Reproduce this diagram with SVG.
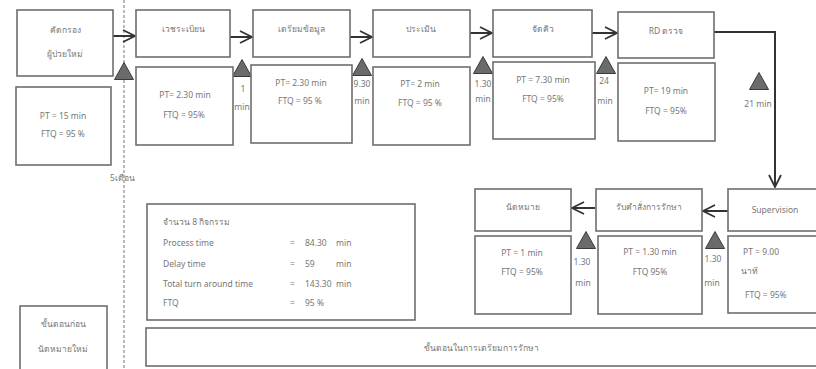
<svg xmlns="http://www.w3.org/2000/svg" width="816" height="369" viewBox="0 0 816 369">
<defs>
<style>
.box{fill:#fff;stroke:#6e6e6e;stroke-width:1.6}
.t{font-family:"Noto Sans","DejaVu Sans","Liberation Sans",sans-serif;font-size:8.5px;fill:#777;text-anchor:middle}
.tl{font-family:"Noto Sans","DejaVu Sans","Liberation Sans",sans-serif;font-size:8.5px;fill:#777}
.c{fill:none;stroke:#333;stroke-width:2}
.tri{fill:#6b6b6b;stroke:#3a3a3a;stroke-width:1}
</style>
<marker id="ah" viewBox="0 0 14 14" refX="13" refY="7" markerWidth="14" markerHeight="14" markerUnits="userSpaceOnUse" orient="auto">
<path d="M1,1 L13,7 L1,13" fill="none" stroke="#333" stroke-width="1.8"/>
</marker>
<path id="triangle" d="M0,-8.5 L9.5,8.5 L-9.5,8.5 Z"/>
</defs>
<rect width="816" height="369" fill="#fff"/>
<line x1="124" y1="0" x2="124" y2="369" stroke="#777" stroke-width="1" stroke-dasharray="3,2"/>
<g id="connectors">
<line class="c" x1="113" y1="36" x2="135" y2="36" marker-end="url(#ah)"/>
<line class="c" x1="230" y1="37" x2="252" y2="37" marker-end="url(#ah)"/>
<line class="c" x1="350" y1="37" x2="372" y2="37" marker-end="url(#ah)"/>
<line class="c" x1="470" y1="33" x2="492" y2="33" marker-end="url(#ah)"/>
<line class="c" x1="592" y1="33" x2="617" y2="33" marker-end="url(#ah)"/>
<polyline class="c" points="714,32 775,32 775,187" marker-end="url(#ah)"/>
<line class="c" x1="728" y1="211" x2="703" y2="211" marker-end="url(#ah)"/>
<line class="c" x1="595" y1="208" x2="572" y2="208" marker-end="url(#ah)"/>
</g>
<g id="delays">
<use href="#triangle" class="tri" x="124" y="71"/>
<use href="#triangle" class="tri" x="242" y="68"/>
<text class="t" x="243" y="92">1</text><text class="t" x="242" y="110">min</text>
<use href="#triangle" class="tri" x="362" y="67"/>
<text class="t" x="362" y="87">9.30</text><text class="t" x="362" y="104">min</text>
<use href="#triangle" class="tri" x="483" y="65"/>
<text class="t" x="483" y="87">1.30</text><text class="t" x="483" y="102">min</text>
<use href="#triangle" class="tri" x="606" y="65"/>
<text class="t" x="604" y="84">24</text><text class="t" x="605" y="104">min</text>
<use href="#triangle" class="tri" x="759" y="81"/>
<text class="t" x="758" y="107">21 min</text>
<use href="#triangle" class="tri" x="586" y="240"/>
<text class="t" x="582" y="265">1.30</text><text class="t" x="583" y="286">min</text>
<use href="#triangle" class="tri" x="715" y="240"/>
<text class="t" x="713" y="262">1.30</text><text class="t" x="712" y="286">min</text>
</g>
<g id="n1">
<rect class="box" x="17" y="10" width="96" height="66"/>
<text class="t" x="65" y="33">คัดกรอง</text><text class="t" x="65" y="57">ผู้ป่วยใหม่</text>
<rect class="box" x="16" y="87" width="95" height="78"/>
<text class="t" x="63" y="119">PT =  15 min</text><text class="t" x="63" y="137">FTQ = 95 %</text>
</g>
<g id="n2">
<rect class="box" x="136" y="10" width="94" height="47"/>
<text class="t" x="183" y="32">เวชระเบียน</text>
<rect class="box" x="136" y="67" width="97" height="78"/>
<text class="t" x="185" y="98">PT= 2.30 min</text><text class="t" x="184" y="118">FTQ = 95%</text>
</g>
<g id="n3">
<rect class="box" x="253" y="10" width="97" height="47"/>
<text class="t" x="301" y="32">เตรียมข้อมูล</text>
<rect class="box" x="251" y="65" width="101" height="78"/>
<text class="t" x="301" y="86">PT= 2.30 min</text><text class="t" x="300" y="104">FTQ = 95 %</text>
</g>
<g id="n4">
<rect class="box" x="373" y="10" width="97" height="47"/>
<text class="t" x="421" y="32">ประเมิน</text>
<rect class="box" x="373" y="67" width="97" height="78"/>
<text class="t" x="420" y="87">PT= 2 min</text><text class="t" x="420" y="106">FTQ = 95 %</text>
</g>
<g id="n5">
<rect class="box" x="493" y="10" width="99" height="47"/>
<text class="t" x="543" y="32">จัดคิว</text>
<rect class="box" x="493" y="62" width="102" height="77"/>
<text class="t" x="543" y="83">PT = 7.30 min</text><text class="t" x="543" y="102">FTQ = 95%</text>
</g>
<g id="n6">
<rect class="box" x="618" y="12" width="96" height="46"/>
<text class="t" x="666" y="34">RD ตรวจ</text>
<rect class="box" x="618" y="63" width="97" height="78"/>
<text class="t" x="666" y="94">PT= 19 min</text><text class="t" x="666" y="114">FTQ = 95%</text>
</g>
<g id="n7">
<rect class="box" x="728" y="189" width="92" height="42"/>
<text class="t" x="775" y="213">Supervision</text>
<rect class="box" x="728" y="236" width="92" height="77"/>
<text class="tl" x="743" y="255">PT = 9.00</text><text class="tl" x="741" y="274">นาที</text><text class="tl" x="745" y="298">FTQ = 95%</text>
</g>
<g id="n8">
<rect class="box" x="596" y="189" width="106" height="42"/>
<text class="t" x="649" y="210">รับคำสั่งการรักษา</text>
<rect class="box" x="598" y="236" width="104" height="78"/>
<text class="t" x="650" y="255">PT = 1.30 min</text><text class="t" x="650" y="275">FTQ 95%</text>
</g>
<g id="n9">
<rect class="box" x="475" y="189" width="96" height="42"/>
<text class="t" x="523" y="210">นัดหมาย</text>
<rect class="box" x="475" y="236" width="96" height="78"/>
<text class="t" x="522" y="256">PT =  1 min</text><text class="t" x="522" y="275">FTQ =  95%</text>
</g>
<g id="summary">
<rect class="box" x="147" y="204" width="268" height="116"/>
<text class="tl" x="163" y="225">จำนวน  8 กิจกรรม</text>
<text class="tl" x="163" y="246">Process time</text><text class="tl" x="290" y="246">=</text><text class="tl" x="305" y="246">84.30</text><text class="tl" x="336" y="246">min</text>
<text class="tl" x="163" y="267">Delay time</text><text class="tl" x="290" y="267">=</text><text class="tl" x="305" y="267">59</text><text class="tl" x="336" y="267">min</text>
<text class="tl" x="163" y="287">Total turn around time</text><text class="tl" x="290" y="287">=</text><text class="tl" x="305" y="287">143.30</text><text class="tl" x="336" y="287">min</text>
<text class="tl" x="163" y="306">FTQ</text><text class="tl" x="290" y="306">=</text><text class="tl" x="305" y="306">95 %</text>
</g>
<text class="tl" x="110" y="181">5เดือน</text>
<g id="phase1">
<rect class="box" x="20" y="306" width="87" height="70"/>
<text class="t" x="63" y="327">ขั้นตอนก่อน</text><text class="t" x="63" y="352">นัดหมายใหม่</text>
</g>
<g id="phase2">
<rect class="box" x="146" y="328" width="675" height="38"/>
<text class="t" x="481" y="351">ขั้นตอนในการเตรียมการรักษา</text>
</g>
</svg>
